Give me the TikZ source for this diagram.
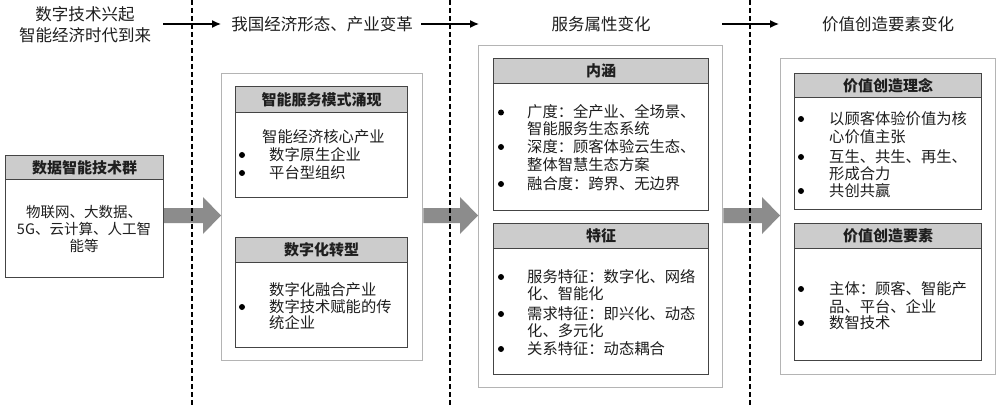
\documentclass[tikz,border=0pt]{standalone}
\usepackage{fontspec}
\setmainfont{Noto Sans CJK SC}
\usetikzlibrary{arrows.meta}
\definecolor{hdfill}{HTML}{CCCCCC}
\definecolor{bxline}{HTML}{444444}
\definecolor{ctline}{HTML}{B4B4B4}
\definecolor{arrgray}{HTML}{8C8C8C}
\definecolor{txtc}{HTML}{1E1E1E}
\tikzset{
  cont/.style={draw=ctline, line width=1.4pt, fill=white, anchor=north west, inner sep=0pt},
  bodybox/.style={draw=bxline, line width=1.2pt, fill=white, anchor=north west, inner sep=0pt},
  headbox/.style={draw=bxline, line width=1.4pt, fill=hdfill, anchor=north west, inner sep=0pt,
     font=\fontsize{15}{17}\selectfont\bfseries, text=txtc},
  toplabel/.style={font=\fontsize{16.5}{21}\selectfont, text=txtc, inner sep=6pt, align=center},
  txt/.style={font=\fontsize{15.3}{17}\selectfont, text=txtc, anchor=base west, inner sep=0pt},
  ctxt/.style={font=\fontsize{14.5}{17}\selectfont, text=txtc, anchor=base, inner sep=0pt},
  bul/.style={circle, fill=black, inner sep=0pt, minimum size=6pt},
  thinarr/.style={line width=1.3pt, -{Latex[length=9pt,width=8pt]}},
  sep/.style={line width=1.6pt, dash pattern=on 5pt off 3pt},
  bigarr/.style={fill=arrgray}
}
\newcommand\bigarrow[2]{%
 \fill[bigarr] (#1.east |- 0,208) -- ([xshift=-18pt]#2.west |- 0,208) -- ([xshift=-18pt]#2.west |- 0,197)
   -- (#2.west |- 0,215.5) -- ([xshift=-18pt]#2.west |- 0,234) -- ([xshift=-18pt]#2.west |- 0,223)
   -- (#1.east |- 0,223) -- cycle;}
\begin{document}
\begin{tikzpicture}[x=1pt,y=-1pt]
\useasboundingbox (0,0) rectangle (1000,406);
\fill[white] (0,0) rectangle (1000,406);

% containers
\node[cont, minimum width=201pt, minimum height=287pt] (c2) at (221,73) {};
\node[cont, minimum width=244pt, minimum height=342pt] (c3) at (478,45) {};
\node[cont, minimum width=215pt, minimum height=316pt] (c4) at (780,58) {};

% left box
\node[bodybox, minimum width=158pt, minimum height=122pt] (lb) at (5,155) {};
\node[headbox, minimum width=158pt, minimum height=24pt] (lh) at (5,155) {数据智能技术群};
\node[ctxt] (l1) at (84,217.5) {物联网、大数据、};
\node[ctxt] (l2) at (84,234.5) {5G、云计算、人工智};
\node[ctxt] (l3) at (84,251.5) {能等};

% column 2
\node[bodybox, minimum width=172pt, minimum height=111pt] (b1) at (235,86) {};
\node[headbox, minimum width=172pt, minimum height=26pt] (h1) at (235,86) {智能服务模式涌现};
\node[txt] (t1a) at (262,142.5) {智能经济核心产业};
\node[txt] (t1b) at (269,160.5) {数字原生企业};
\node[txt] (t1c) at (269,178.5) {平台型组织};
\node[bul] (u1b) at (242,155) {};
\node[bul] (u1c) at (242,173) {};

\node[bodybox, minimum width=172pt, minimum height=110pt] (b2) at (235,237) {};
\node[headbox, minimum width=172pt, minimum height=25pt] (h2) at (235,237) {数字化转型};
\node[txt] (t2a) at (269,295.5) {数字化融合产业};
\node[txt] (t2b) at (269,312.5) {数字技术赋能的传};
\node[txt] (t2c) at (269,328.5) {统企业};
\node[bul] (u2b) at (242,307) {};

% column 3
\node[bodybox, minimum width=215pt, minimum height=152pt] (b3) at (493,58) {};
\node[headbox, minimum width=215pt, minimum height=25pt] (h3) at (493,58) {内涵};
\foreach \yy/\tt [count=\i] in {112.5/{广度：全产业、全场景、},129/{智能服务生态系统},147/{深度：顾客体验云生态、},165/{整体智慧生态方案},184/{融合度：跨界、无边界}}
  \node[txt] (t3\i) at (527,\yy+5.5) {\tt};
\foreach \yy [count=\i] in {112.5,147,184}
  \node[bul] (u3\i) at (501,\yy) {};

\node[bodybox, minimum width=215pt, minimum height=151pt] (b4) at (493,223) {};
\node[headbox, minimum width=215pt, minimum height=25pt] (h4) at (493,223) {特征};
\foreach \yy/\tt [count=\i] in {277/{服务特征：数字化、网络},294/{化、智能化},314/{需求特征：即兴化、动态},331/{化、多元化},349/{关系特征：动态耦合}}
  \node[txt] (t4\i) at (527,\yy+5.5) {\tt};
\foreach \yy [count=\i] in {277,314,349}
  \node[bul] (u4\i) at (501,\yy) {};

% column 4
\node[bodybox, minimum width=187pt, minimum height=136pt] (b5) at (794,73) {};
\node[headbox, minimum width=187pt, minimum height=24pt] (h5) at (794,73) {价值创造理念};
\foreach \yy/\tt [count=\i] in {119/{以顾客体验价值为核},137/{心价值主张},157/{互生、共生、再生、},174/{形成合力},191/{共创共赢}}
  \node[txt] (t5\i) at (829,\yy+5.5) {\tt};
\foreach \yy [count=\i] in {119,157,191}
  \node[bul] (u5\i) at (801,\yy) {};

\node[bodybox, minimum width=187pt, minimum height=137pt] (b6) at (794,223) {};
\node[headbox, minimum width=187pt, minimum height=25pt] (h6) at (794,223) {价值创造要素};
\foreach \yy/\tt [count=\i] in {289/{主体：顾客、智能产},307/{品、平台、企业},323/{数智技术}}
  \node[txt] (t6\i) at (829,\yy+5.5) {\tt};
\foreach \yy [count=\i] in {289,323}
  \node[bul] (u6\i) at (801,\yy) {};

% big arrows
\bigarrow{lb}{c2}
\bigarrow{c2}{c3}
\bigarrow{c3}{c4}

% top labels
\node[toplabel] (p1) at (85,25) {数字技术兴起\\智能经济时代到来};
\node[toplabel] (p2) at (322,24) {我国经济形态、产业变革};
\node[toplabel] (p3) at (601,24) {服务属性变化};
\node[toplabel] (p4) at (888,24) {价值创造要素变化};
\coordinate (a1s) at (163,24);
\coordinate (a1e) at (221,24);
\coordinate (a2s) at (421,24);
\coordinate (a2e) at (479,24);
\coordinate (a3s) at (722,24);
\coordinate (a3e) at (779,24);
\draw[thinarr] (a1s) -- (a1e);
\draw[thinarr] (a2s) -- (a2e);
\draw[thinarr] (a3s) -- (a3e);

% dashed separators
\foreach \xx [count=\i] in {192,450,750}{
  \coordinate (s\i t) at (\xx,0);
  \coordinate (s\i b) at (\xx,406);
  \draw[sep] (s\i t) -- (s\i b);
}
\end{tikzpicture}
\end{document}
